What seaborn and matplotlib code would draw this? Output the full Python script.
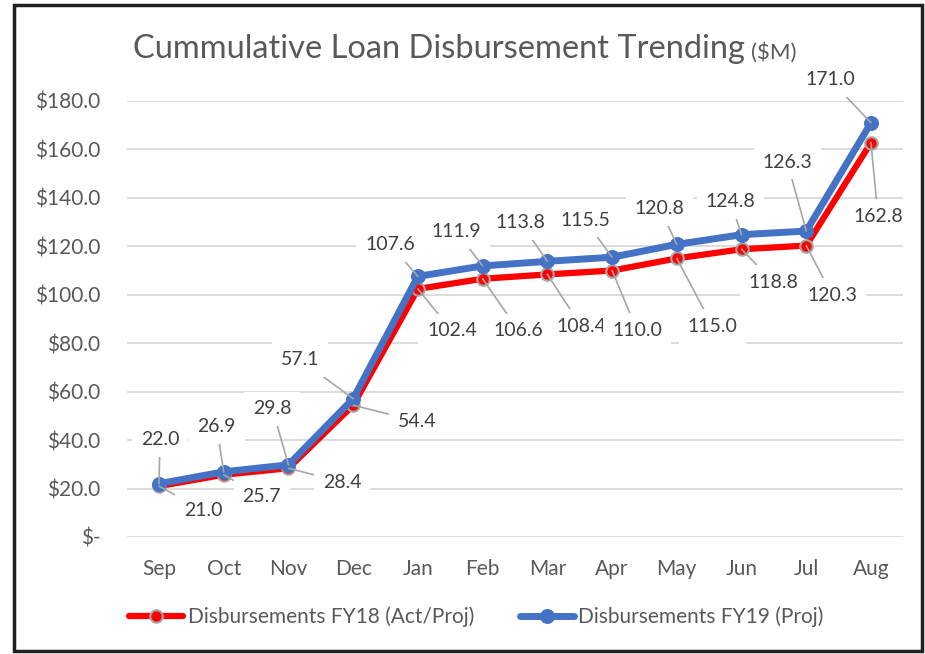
import matplotlib
matplotlib.use("Agg")
import matplotlib.pyplot as plt
import seaborn as sns
import pandas as pd
from matplotlib.patches import Rectangle

months = ["Sep", "Oct", "Nov", "Dec", "Jan", "Feb", "Mar", "Apr", "May", "Jun", "Jul", "Aug"]
fy18 = [21.0, 25.7, 28.4, 54.4, 102.4, 106.6, 108.4, 110.0, 115.0, 118.8, 120.3, 162.8]
fy19 = [22.0, 26.9, 29.8, 57.1, 107.6, 111.9, 113.8, 115.5, 120.8, 124.8, 126.3, 171.0]
series_names = ["Disbursements FY18 (Act/Proj)", "Disbursements FY19 (Proj)"]
yticks = [0, 20, 40, 60, 80, 100, 120, 140, 160, 180]

# label offsets in pixels (dx right, dy down)
off19 = [(1, -44), (-7, -45), (-16, -56), (-53, -39), (-28, -32), (-26, -34),
         (-27, -39), (-27, -37), (-17, -36), (-11, -33), (-19, -69), (-41, -43)]
off18 = [(44, 24), (38, 22), (54, 14), (64, 16), (34, 42), (36, 52),
         (34, 52), (25, 60), (36, 68), (32, 33), (26, 50), (7, 74)]

df = pd.DataFrame({
    "Month": months * 2,
    "Value": fy18 + fy19,
    "Series": [series_names[0]] * len(months) + [series_names[1]] * len(months),
})
df["x"] = list(range(len(months))) * 2

sns.set_theme(style="white")
plt.rcParams["font.family"] = ["Lato", "DejaVu Sans"]

fig = plt.figure(figsize=(9.25, 6.54), dpi=100)
ax = fig.add_axes([0.1369, 0.1789, 0.8397, 0.6667])

red = "#ff0000"
blue = "#4472c4"
sns.lineplot(data=df[df.Series == series_names[0]], x="x", y="Value", ax=ax,
             color=red, lw=4.5, marker="o", markersize=9, markeredgecolor="#a6a6a6",
             markeredgewidth=1.5, label=series_names[0], zorder=3)
sns.lineplot(data=df[df.Series == series_names[1]], x="x", y="Value", ax=ax,
             color=blue, lw=5, marker="o", markersize=10, markeredgecolor=blue,
             label=series_names[1], zorder=4)

ax.set_xlim(-0.5, len(months) - 0.5)
ax.set_ylim(0, 180)
ax.set_yticks(yticks)
ax.set_yticklabels(["$-" if t == 0 else f"${t:.1f}" for t in yticks])
ax.set_xticks(range(len(months)))
ax.set_xticklabels(months)
ax.tick_params(axis="both", labelsize=15, labelcolor="#595959", length=0)
ax.tick_params(axis="y", pad=19)
ax.tick_params(axis="x", pad=16)
ax.set_xlabel("")
ax.set_ylabel("")
ax.yaxis.grid(True, color="#d9d9d9", lw=1.3)
ax.set_axisbelow(True)
for s in ax.spines.values():
    s.set_visible(False)

def label(vals, offs):
    for i, (v, (dx, dy)) in enumerate(zip(vals, offs)):
        ax.annotate(f"{v:.1f}", xy=(i, v), xytext=(dx * 0.72, -dy * 0.72),
                    textcoords="offset points", ha="center", va="center",
                    fontsize=14, color="#404040", zorder=5,
                    bbox=dict(boxstyle="square,pad=0.45", fc="white", ec="none"),
                    arrowprops=dict(arrowstyle="-", color="#a6a6a6", lw=1.2,
                                    shrinkA=0, shrinkB=0))

label(fy18, off18)
label(fy19, off19)

title = fig.text(0.144, 0.925, "Cummulative Loan Disbursement Trending", fontsize=23.5,
                 color="#595959", va="center", ha="left")
fig.canvas.draw()
tb = title.get_window_extent()
fig.text((tb.x1 + 6) / fig.bbox.width, 0.919, "($M)", fontsize=16, color="#595959",
         va="center", ha="left")

leg = fig.legend(*ax.get_legend_handles_labels(), loc="center",
                 bbox_to_anchor=(0.515, 0.0566), ncol=2, frameon=False,
                 fontsize=15, handlelength=2.6, handletextpad=0.2, columnspacing=2.2)
ax.get_legend().remove()
for t in leg.get_texts():
    t.set_color("#595959")

fig.patches.append(Rectangle((0.0151, 0.0046), 0.9817, 0.9878, transform=fig.transFigure,
                             fill=False, ec="#202020", lw=2.5))

fig.savefig("out.png", dpi=100)
